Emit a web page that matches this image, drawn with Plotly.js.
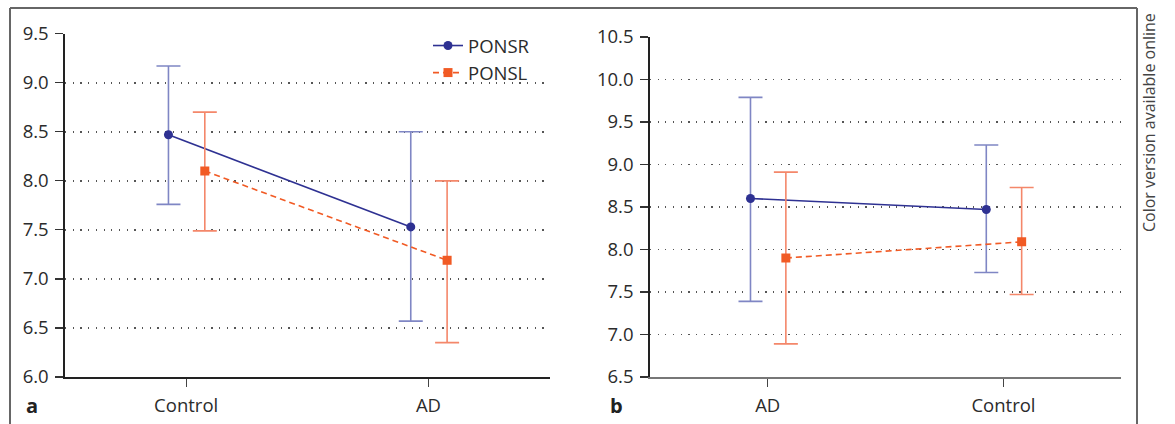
<!DOCTYPE html>
<html>
<head>
<meta charset="utf-8">
<script src="https://cdn.plot.ly/plotly-3.0.1.min.js"></script>
<style>html,body{margin:0;padding:0;background:#fff;}#chart{width:1175px;height:424px;}</style>
</head>
<body>
<div id="chart"></div>
<script>
// ---- data ----
var categoriesA = ['Control', 'AD'];
var ponsrA      = [8.47, 7.53];
var ponsrAHigh  = [9.17, 8.50];
var ponsrALow   = [7.76, 6.57];
var ponslA      = [8.10, 7.19];
var ponslAHigh  = [8.70, 8.00];
var ponslALow   = [7.49, 6.35];

var categoriesB = ['AD', 'Control'];
var ponsrB      = [8.60, 8.47];
var ponsrBHigh  = [9.79, 9.23];
var ponsrBLow   = [7.39, 7.73];
var ponslB      = [7.90, 8.09];
var ponslBHigh  = [8.91, 8.73];
var ponslBLow   = [6.89, 7.47];

var yTicksA = [6.0, 6.5, 7.0, 7.5, 8.0, 8.5, 9.0, 9.5];
var yTicksB = [6.5, 7.0, 7.5, 8.0, 8.5, 9.0, 9.5, 10.0, 10.5];

// ---- styling ----
var W = 1175, H = 424;
var BLUE = '#2e3192', BLUE_ERR = '#7f86c4';
var ORANGE = '#f15a24', ORANGE_ERR = '#f4876a';
var FONT = 'Open Sans, Noto Sans, sans-serif';
var TXT = '#2b2b2b';
var FS = 18.5;
var OFF_R = -0.073, OFF_L = 0.077;

function px(x) { return x / W; }
function py(y) { return 1 - y / H; }
function idx(cats, off) { return cats.map(function (c, i) { return i + 1 + off; }); }
function diff(a, b) { return a.map(function (v, i) { return +(v - b[i]).toFixed(4); }); }

function trace(name, cats, off, vals, hi, lo, color, errColor, symbol, dash, xa, ya, showLegend) {
  return {
    type: 'scatter', mode: 'lines+markers', name: name,
    x: idx(cats, off), y: vals, xaxis: xa, yaxis: ya,
    showlegend: showLegend,
    line: { color: color, width: 1.6, dash: dash },
    marker: { color: color, size: 9, symbol: symbol },
    error_y: { type: 'data', symmetric: false, array: diff(hi, vals), arrayminus: diff(vals, lo),
               color: errColor, thickness: 1.6, width: 12 }
  };
}

var data = [
  trace('PONSR', categoriesA, OFF_R, ponsrA, ponsrAHigh, ponsrALow, BLUE, BLUE_ERR, 'circle', 'solid', 'x', 'y', true),
  trace('PONSL', categoriesA, OFF_L, ponslA, ponslAHigh, ponslALow, ORANGE, ORANGE_ERR, 'square', '6px,4px', 'x', 'y', true),
  trace('PONSR', categoriesB, OFF_R, ponsrB, ponsrBHigh, ponsrBLow, BLUE, BLUE_ERR, 'circle', 'solid', 'x2', 'y2', false),
  trace('PONSL', categoriesB, OFF_L, ponslB, ponslBHigh, ponslBLow, ORANGE, ORANGE_ERR, 'square', '6px,4px', 'x2', 'y2', false)
];

function xaxisDef(domain, cats, lineColor, anchor) {
  return {
    domain: domain, range: [0.5, 2.5], anchor: anchor,
    tickmode: 'array', tickvals: cats.map(function (c, i) { return i + 1; }), ticktext: cats,
    ticks: 'outside', ticklen: 8, tickwidth: 1.2, tickcolor: '#444',
    showline: true, linecolor: lineColor, linewidth: 1.6,
    showgrid: false, zeroline: false, fixedrange: true,
    tickfont: { family: FONT, size: FS, color: TXT }, ticklabelstandoff: 3
  };
}
function yaxisDef(domain, range, ticks, anchor) {
  return {
    domain: domain, range: range, anchor: anchor,
    tickmode: 'array', tickvals: ticks, ticktext: ticks.map(function (t) { return t.toFixed(1); }),
    ticks: 'outside', ticklen: 8, tickwidth: 1.2, tickcolor: '#333',
    showline: true, linecolor: '#222', linewidth: 1.6,
    showgrid: true, gridcolor: '#555', gridwidth: 1.6, griddash: '1.2px,6.5px',
    zeroline: false, fixedrange: true,
    tickfont: { family: FONT, size: FS, color: TXT }, ticklabelstandoff: 3
  };
}

var layout = {
  width: W, height: H,
  margin: { l: 0, r: 0, t: 0, b: 0 },
  paper_bgcolor: '#fff', plot_bgcolor: 'rgba(0,0,0,0)',
  font: { family: FONT, color: TXT },
  xaxis: xaxisDef([px(65), px(549.6)], categoriesA, '#222', 'y'),
  yaxis: yaxisDef([1 - 377 / H, 1 - 33.7 / H], [6.0, 9.5], yTicksA, 'x'),
  xaxis2: xaxisDef([px(649.8), px(1121.4)], categoriesB, '#777', 'y2'),
  yaxis2: yaxisDef([1 - 377 / H, 1 - 37 / H], [6.5, 10.5], yTicksB, 'x2'),
  showlegend: true,
  legend: {
    x: px(428), y: py(27), xanchor: 'left', yanchor: 'top',
    bgcolor: 'rgba(255,255,255,0)', borderwidth: 0,
    font: { family: FONT, size: FS, color: TXT }, tracegroupgap: 0
  },
  annotations: [
    { text: '<b>a</b>', xref: 'paper', yref: 'paper', x: px(24), y: py(405), xanchor: 'left', yanchor: 'middle',
      showarrow: false, font: { family: FONT, size: 20, color: '#222' } },
    { text: '<b>b</b>', xref: 'paper', yref: 'paper', x: px(608), y: py(405), xanchor: 'left', yanchor: 'middle',
      showarrow: false, font: { family: FONT, size: 20, color: '#222' } },
    { text: 'Color version available online', xref: 'paper', yref: 'paper', x: px(1149), y: py(123),
      xanchor: 'center', yanchor: 'middle', textangle: -90, showarrow: false,
      font: { family: FONT, size: 16, color: '#444' } }
  ],
  shapes: [
    { type: 'line', xref: 'paper', yref: 'paper', x0: px(10), x1: px(10), y0: 0, y1: py(8), line: { color: '#666', width: 2 } },
    { type: 'line', xref: 'paper', yref: 'paper', x0: px(10), x1: px(1137), y0: py(8), y1: py(8), line: { color: '#666', width: 2 } },
    { type: 'line', xref: 'paper', yref: 'paper', x0: px(1137), x1: px(1137), y0: 0, y1: py(8), line: { color: '#666', width: 2 } }
  ]
};

Plotly.newPlot('chart', data, layout, { displayModeBar: false, staticPlot: true });
</script>
</body>
</html>
